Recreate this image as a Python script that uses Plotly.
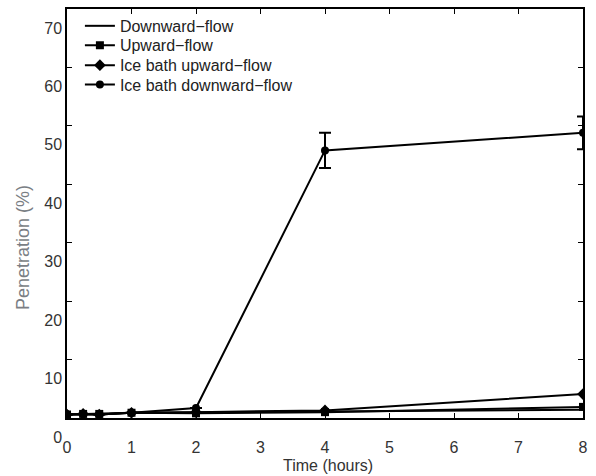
import plotly.graph_objects as go

time = [0, 0.25, 0.5, 1, 2, 4, 8]
downward = [0.6, 0.6, 0.6, 0.9, 1.0, 1.1, 1.4]
upward = [0.6, 0.7, 0.7, 0.9, 0.8, 1.0, 1.9]
ice_upward = [0.6, 0.7, 0.6, 0.9, 1.0, 1.3, 4.1]
ice_downward = [0.6, 0.7, 0.6, 0.9, 1.7, 45.8, 48.8]
ice_downward_err = [0, 0, 0, 0, 0, 3.0, 2.8]

x_ticks = [0, 1, 2, 3, 4, 5, 6, 7, 8]
y_ticks = [0, 10, 20, 30, 40, 50, 60, 70]

FONT = "Liberation Sans, Arial, Helvetica"

fig = go.Figure()
line = dict(color="black", width=2)
fig.add_trace(go.Scatter(x=time, y=downward, mode="lines", name="Downward\u2212flow", line=line,
                         legend="legend"))
fig.add_trace(go.Scatter(x=time, y=upward, mode="lines+markers", name="Upward\u2212flow", line=line,
                         marker=dict(symbol="square", size=8, color="black"), legend="legend2"))
fig.add_trace(go.Scatter(x=time, y=ice_upward, mode="lines+markers", name="Ice bath upward\u2212flow", line=line,
                         marker=dict(symbol="diamond", size=9, color="black"), legend="legend3"))
fig.add_trace(go.Scatter(x=time, y=ice_downward, mode="lines+markers", name="Ice bath downward\u2212flow", line=line,
                         marker=dict(symbol="circle", size=8, color="black"), legend="legend4",
                         error_y=dict(type="data", array=ice_downward_err, visible=True,
                                      color="black", thickness=2, width=6)))

axis_common = dict(showline=True, linecolor="black", linewidth=1.5, mirror="ticks",
                   ticks="inside", ticklen=5, tickcolor="black", showgrid=False, zeroline=False,
                   tickfont=dict(family=FONT, size=16, color="#333"))

fig.update_xaxes(range=[0, 8], tickvals=x_ticks, ticklabelstandoff=14, **axis_common)
fig.update_yaxes(range=[0, 70], tickvals=y_ticks, ticklabelshift=19, **axis_common)

fig.add_annotation(text="Penetration (%)", textangle=-90, xref="paper", yref="paper",
                   x=-0.0853, y=0.418, xanchor="center", yanchor="middle", showarrow=False,
                   font=dict(family=FONT, size=18, color="#7a7e84"))
fig.add_annotation(text="Time (hours)", xref="paper", yref="paper",
                   x=0.506, y=-0.1168, xanchor="center", yanchor="middle", showarrow=False,
                   font=dict(family=FONT, size=16, color="#333"))

leg_base = dict(x=0.025, xanchor="left", yanchor="middle", bgcolor="rgba(0,0,0,0)",
                font=dict(family=FONT, size=16, color="#222"), itemwidth=30)
plot_top, plot_h = 7, 411
leg_px = [24, 43.5, 63.5, 83]
legs = {}
for name, py in zip(["legend", "legend2", "legend3", "legend4"], leg_px):
    legs[name] = dict(leg_base, y=(plot_top + plot_h - py) / plot_h)

fig.update_layout(
    width=596, height=476,
    margin=dict(l=67, r=13, t=7, b=58),
    paper_bgcolor="white", plot_bgcolor="white",
    showlegend=True,
    **legs,
)

fig.write_html("out.html")
